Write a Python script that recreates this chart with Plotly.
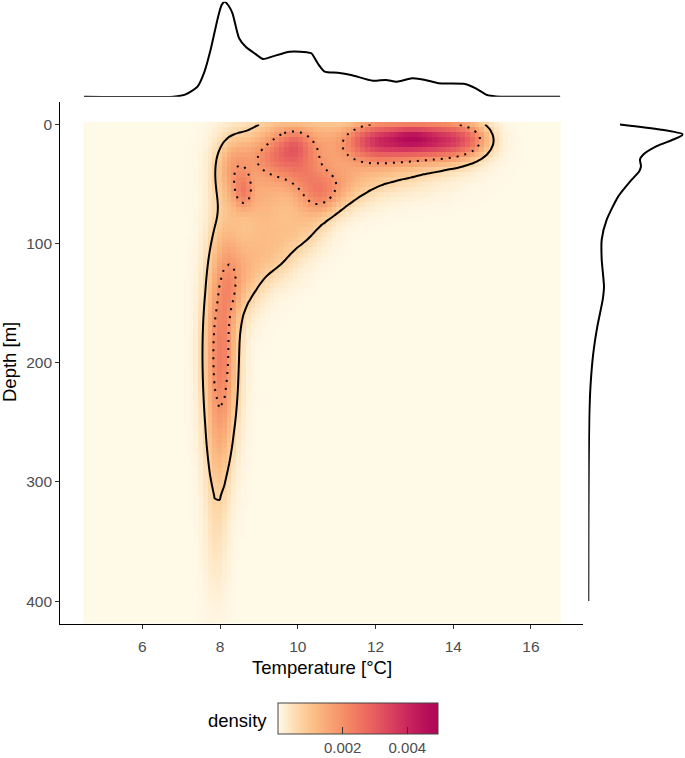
import numpy as np
import plotly.graph_objects as go

# ---------------- data ----------------
# hotspots of the 2-D density surface (temperature °C, depth m, spread °C, spread m, peak density)
hot_temp     = [8.02, 7.95, 7.90, 8.20, 8.30, 8.33, 8.60, 9.60, 10.55, 9.95, 9.55, 10.10, 9.50, 9.00,
                9.30, 10.10, 11.00, 8.65, 10.80, 10.60,
                11.75, 12.35, 12.95, 13.55, 14.15, 12.95, 14.60, 12.00]
hot_depth    = [190, 270, 340, 105, 140, 38, 57, 25, 60, 16, 40, 42, 3, 70,
                108, 88, 52, 128, 15, 2,
                13, 13, 13, 13, 13, 11, 13, 35]
hot_sd_temp  = [0.30, 0.25, 0.22, 0.32, 0.18, 0.33, 0.16, 0.62, 0.38, 0.28, 0.80, 0.30, 0.45, 0.40,
                0.50, 0.45, 0.60, 0.35, 0.50, 0.50,
                0.45, 0.45, 0.45, 0.45, 0.45, 0.35, 0.35, 1.20]
hot_sd_depth = [55, 35, 42, 30, 18, 20, 10, 13, 13, 9, 28, 10, 8, 20,
                18, 14, 14, 22, 12, 8,
                12, 12, 12, 12, 12, 6, 10, 16]
hot_peak     = [0.0023, 0.0005, 0.0004, 0.0006, 0.0004, 0.0012, 0.0010, 0.0015, 0.0012, 0.0009, 0.0011,
                0.0004, 0.0004, 0.0006,
                0.0008, 0.0006, 0.0008, 0.0008, 0.0006, 0.0004,
                0.0020, 0.0020, 0.0020, 0.0021, 0.0021, 0.0008, 0.0008, 0.0009]

contour_solid = 0.0007
contour_dotted = 0.0019

# marginal density of temperature (top)
top_temp = [4.50, 6.80, 7.10, 7.42, 7.60, 7.755, 7.95, 8.04, 8.12, 8.22, 8.32, 8.49, 8.66, 8.90, 9.11, 9.34,
            9.79, 10.24, 10.35, 10.52, 10.69, 11.03, 11.37, 11.93, 12.27, 12.55, 12.94, 13.28, 13.62, 14.30,
            14.58, 14.87, 15.10, 16.75]
top_density = [0.0, 0.0, 0.009, 0.045, 0.112, 0.208, 0.357, 0.409, 0.424, 0.406, 0.372, 0.261, 0.223, 0.192,
               0.168, 0.179, 0.201, 0.198, 0.194, 0.147, 0.112, 0.107, 0.097, 0.071, 0.075, 0.067, 0.082,
               0.075, 0.060, 0.057, 0.0375, 0.0076, 0.0013, 0.0]

# marginal density of depth (right)
right_depth = [0, 4.2, 8.4, 12.6, 18.2, 25.2, 29.4, 35, 39.2, 46.3, 60.3, 79.9, 96.7, 113.5, 136, 147,
               169.6, 192, 217, 245, 287, 340, 400]
right_density = [0.00598, 0.01353, 0.01792, 0.01604, 0.0129, 0.01038, 0.00975, 0.00994, 0.00962, 0.00819,
                 0.00566, 0.00347, 0.00253, 0.00253, 0.00296, 0.00272, 0.0017, 0.00094, 0.00045, 0.00019,
                 0.00008, 0.00002, 0.0]

x_ticks = [6, 8, 10, 12, 14, 16]
y_ticks = [0, 100, 200, 300, 400]
cbar_ticks = [0.002, 0.004]
cbar_ticktext = ["0.002", "0.004"]

# ---------------- density grid ----------------
temp_grid = np.linspace(4.55, 16.70, 100)
depth_grid = np.linspace(0.0, 417.0, 100)
TT, DD = np.meshgrid(temp_grid, depth_grid)
dens = np.zeros_like(TT)
for t, d, st, sd, a in zip(hot_temp, hot_depth, hot_sd_temp, hot_sd_depth, hot_peak):
    dens += a * np.exp(-0.5 * (((TT - t) / st) ** 2 + ((DD - d) / sd) ** 2))

colorscale = [
    [0.00, "#FFF9E8"], [0.06, "#FEEACA"], [0.13, "#FDD6A6"], [0.22, "#FCBF88"],
    [0.32, "#F9A573"], [0.42, "#F58C66"], [0.52, "#EF7260"], [0.62, "#E5595E"],
    [0.72, "#D83E5E"], [0.82, "#C8245C"], [0.92, "#B9105A"], [1.00, "#B00657"],
]

FONT = "Liberation Sans, Arial, sans-serif"
W, H = 685, 758

fig = go.Figure()
fig.add_trace(go.Heatmap(
    x=temp_grid, y=depth_grid, z=dens, zmin=0, zmax=0.00495, zsmooth=False,
    colorscale=colorscale, hoverinfo="skip",
    colorbar=dict(orientation="h", x=358 / W, xanchor="center", y=(H - 703) / H, yanchor="top",
                  len=160, lenmode="pixels", thickness=31, thicknessmode="pixels",
                  xpad=0, ypad=0, outlinewidth=1, outlinecolor="#444",
                  tickvals=cbar_ticks, ticktext=cbar_ticktext, ticks="inside", ticklen=7,
                  tickcolor="#333", tickfont=dict(family=FONT, size=15, color="#4D4D4D")),
))
for lvl, dash in [(contour_solid, "solid"), (contour_dotted, "2px,6px")]:
    fig.add_trace(go.Contour(
        x=temp_grid, y=depth_grid, z=dens, showscale=False, hoverinfo="skip",
        contours=dict(start=lvl, end=lvl, size=0.0001, coloring="none"),
        line=dict(color="black", width=2, dash=dash, smoothing=1),
    ))
fig.add_trace(go.Scatter(x=top_temp, y=top_density, mode="lines", xaxis="x2", yaxis="y2",
                         line=dict(color="black", width=2, shape="spline", smoothing=0.6), hoverinfo="skip"))
fig.add_trace(go.Scatter(x=right_density, y=right_depth, mode="lines", xaxis="x3", yaxis="y3",
                         line=dict(color="black", width=2, shape="spline", smoothing=0.6), hoverinfo="skip"))

xdom = [60.3 / W, 583 / W]
ydom = [(H - 623.5) / H, (H - 101.5) / H]
xr = [3.890, 17.338]
yr = [418.8, -19.3]
axis_common = dict(showline=True, linecolor="black", linewidth=1.3, ticks="outside", ticklen=4,
                   tickcolor="#333", tickwidth=1, showgrid=False, zeroline=False,
                   tickfont=dict(family=FONT, size=15.5, color="#4D4D4D"))
fig.update_layout(
    width=W, height=H, margin=dict(l=0, r=0, t=0, b=0, autoexpand=False),
    paper_bgcolor="white", plot_bgcolor="white", showlegend=False,
    xaxis=dict(domain=xdom, range=xr, tickvals=x_ticks, ticktext=[str(v) for v in x_ticks], anchor="y",
               ticklabelstandoff=5, **axis_common),
    yaxis=dict(domain=ydom, range=yr, tickvals=y_ticks, ticktext=[str(v) for v in y_ticks], anchor="x",
               **axis_common),
    xaxis2=dict(domain=xdom, range=xr, anchor="y2", visible=False),
    yaxis2=dict(domain=[(H - 96.7) / H, (H - 1.7) / H], range=[0, max(top_density)], anchor="x2", visible=False),
    xaxis3=dict(domain=[588.3 / W, 683.3 / W], range=[0, max(right_density)], anchor="y3", visible=False),
    yaxis3=dict(domain=ydom, range=yr, anchor="x3", visible=False),
    annotations=[
        dict(text="Temperature [°C]", x=322 / W, y=(H - 667) / H, xref="paper", yref="paper",
             xanchor="center", yanchor="middle",
             showarrow=False, font=dict(family=FONT, size=18.5, color="black")),
        dict(text="Depth [m]", x=10 / W, y=(H - 362) / H, xref="paper", yref="paper", textangle=-90,
             xanchor="center", yanchor="middle",
             showarrow=False, font=dict(family=FONT, size=18.5, color="black")),
        dict(text="density", x=269 / W, y=(H - 720) / H, xref="paper", yref="paper",
             xanchor="right", yanchor="middle",
             showarrow=False, font=dict(family=FONT, size=18.5, color="black")),
    ],
)
fig.write_html("out.html", config={"displayModeBar": False},
               post_script="document.body.style.margin='0px';document.body.style.overflow='hidden';")
